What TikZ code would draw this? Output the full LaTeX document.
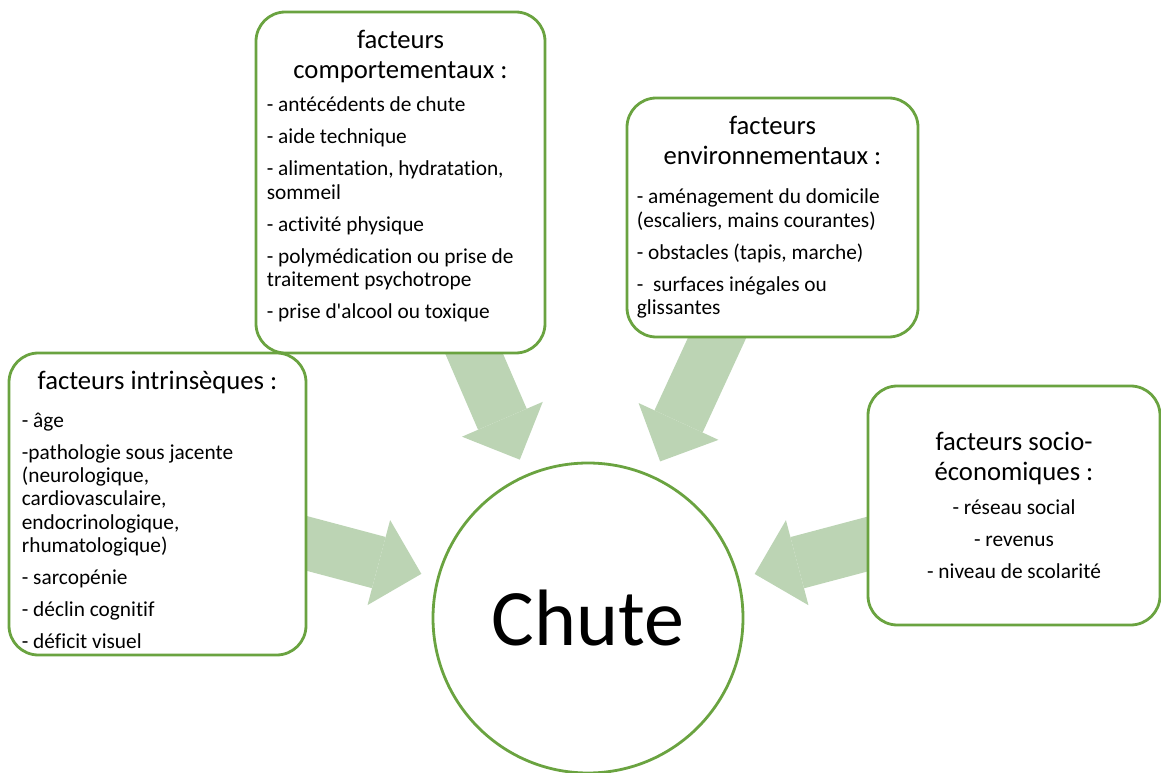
\documentclass[tikz,border=0pt]{standalone}
\usepackage{fontspec}
\setmainfont{Carlito}[Ligatures={TeXOff,NoCommon}]
\usepackage{tikz}
\usetikzlibrary{positioning}
\usetikzlibrary{arrows.meta}
\usetikzlibrary{backgrounds}

\definecolor{cadregreen}{RGB}{106,163,64}
\definecolor{flechegreen}{RGB}{188,212,180}

\newcommand{\titrefont}{\fontsize{20}{22.5}\selectfont}
\newcommand{\listefont}{\fontsize{16}{17.5}\selectfont}

\begin{document}
\begin{tikzpicture}[x=0.75pt, y=-0.75pt,
		cadre/.style={draw=cadregreen, line width=2.1pt, rounded corners=22pt, fill=white},
		titre/.style={font=\titrefont, align=center, inner sep=0pt},
		liste/.style={font=\listefont, align=left, inner sep=0pt},
		fleche/.style={draw=flechegreen, line width=39.75pt, shorten <=-20pt, shorten >=12pt,
			-{Triangle[width=66pt, length=33pt, line width=0pt]}}]
		\useasboundingbox (0,0) rectangle (1161,773);

		\node[cadre, minimum width=216.75pt, minimum height=255.75pt] (comp) at (400.5,182.5) {};
		\node[cadre, minimum width=218.25pt, minimum height=179.25pt] (env) at (772.5,217.5) {};
		\node[cadre, minimum width=222.75pt, minimum height=226.5pt] (intr) at (157.5,504) {};
		\node[cadre, minimum width=219pt, minimum height=179.25pt] (socio) at (1014,505.5) {};
		\node[circle, draw=cadregreen, line width=2.1pt, fill=white, minimum size=232.5pt,
			font=\fontsize{60}{72}\selectfont] (chute) at (588,618) {Chute};

		\node[titre, below=14.25pt of comp.north] (comp-titre) {facteurs\\comportementaux :};
		\node[liste, below right=64.5pt and 9pt of comp.north west] (comp-liste)
			{- antécédents de chute\\[6.5pt]
			- aide technique\\[6.5pt]
			- alimentation, hydratation,\\
			sommeil\\[6.5pt]
			- activité physique\\[6.5pt]
			- polymédication ou prise de\\
			traitement psychotrope\\[6.5pt]
			- prise d'alcool ou toxique};

		\node[titre, below=14.25pt of env.north] (env-titre) {facteurs\\environnementaux :};
		\node[liste, below right=69pt and 8.25pt of env.north west] (env-liste)
			{- aménagement du domicile\\
			(escaliers, mains courantes)\\[6.5pt]
			- obstacles (tapis, marche)\\[6.5pt]
			-~ surfaces inégales ou\\
			glissantes};

		\node[titre, below=14.25pt of intr.north] (intr-titre) {facteurs intrinsèques :};
		\node[liste, below right=45.75pt and 10.5pt of intr.north west] (intr-liste)
			{- âge\\[6.5pt]
			-pathologie sous jacente\\
			(neurologique,\\
			cardiovasculaire,\\
			endocrinologique,\\
			rhumatologique)\\[6.5pt]
			- sarcopénie\\[6.5pt]
			- déclin cognitif\\[6.5pt]
			- déficit visuel};

		\node[titre, below=35.25pt of socio.north] (socio-titre) {facteurs socio-\\économiques :};
		\node[liste, align=center, below=86.25pt of socio.north] (socio-liste)
			{- réseau social\\[6.5pt]
			- revenus\\[6.5pt]
			- niveau de scolarité};

		\begin{scope}[on background layer]
			\draw[fleche] (comp) -- (chute);
			\draw[fleche] (env) -- (chute);
			\draw[fleche] (intr) -- (chute);
			\draw[fleche] (socio) -- (chute);
		\end{scope}
	\end{tikzpicture}
\end{document}
